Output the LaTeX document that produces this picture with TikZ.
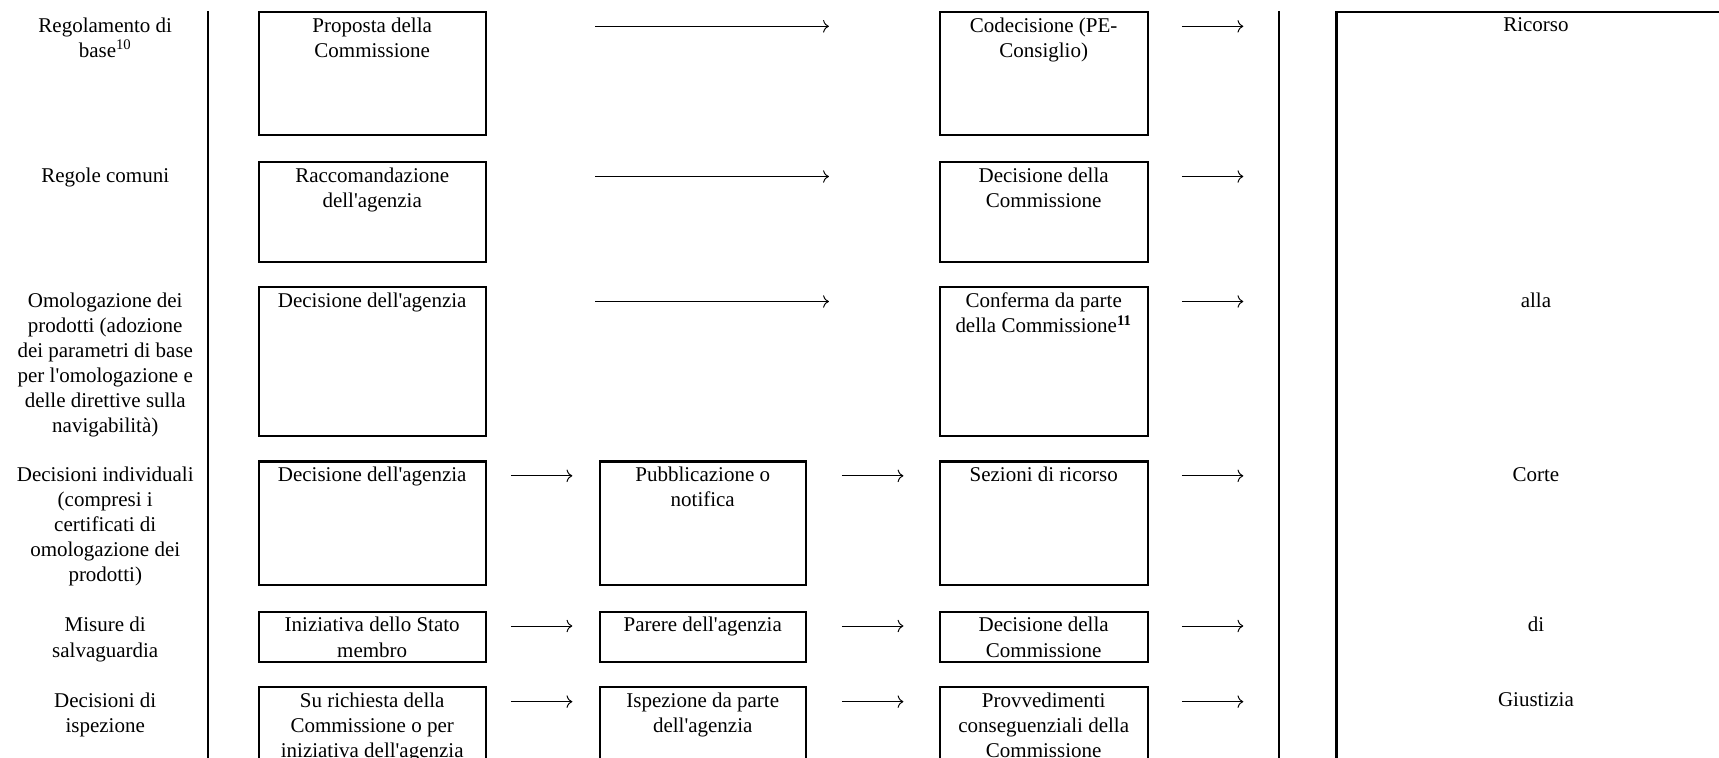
\documentclass[tikz,border=0pt]{standalone}
\usepackage{fontspec}
\setmainfont{Liberation Serif}[Ligatures=TeXOff]
\usetikzlibrary{positioning,arrows.meta}

\begin{document}
\begin{tikzpicture}[x=0.02cm, y=-0.02cm,
  box/.style={draw, line width=1.1pt, anchor=north, inner sep=0pt},
  boxtext/.style={anchor=north, align=center, inner sep=3.3pt, font=\fontsize{10.9}{13}\selectfont},
  rowlabel/.style={boxtext},
  flow/.style={-{To[length=3pt,width=6.5pt]}, line width=0.5pt},
  longflow/.style={flow, shorten <=1.98cm, shorten >=2cm},
  flowa/.style={flow, shorten <=0.44cm, shorten >=0.48cm},
  flowb/.style={flow, shorten <=0.64cm, shorten >=0.64cm},
  flowc/.style={flow, shorten <=0.6cm, shorten >=1.68cm}
  ]
  \useasboundingbox (0,0) rectangle (1568,691);
  \clip (0,0) rectangle (1568,691);

  % table rules
  \draw[line width=1.1pt] (190,10) -- (190,700);
  \draw[line width=1.1pt] (1167,10) -- (1167,700);
  \node[box, minimum width=7.28cm, minimum height=15cm] (court) at (1401,10) {};

  % row labels
  \node[rowlabel] (l1) at (96,10) {Regolamento di\\base\textsuperscript{10}};
  \node[rowlabel] (l2) at (96,147) {Regole comuni};
  \node[rowlabel] (l3) at (96,261) {Omologazione dei\\prodotti (adozione\\dei parametri di base\\per l'omologazione e\\delle direttive sulla\\navigabilità)};
  \node[rowlabel] (l4) at (96,420) {Decisioni individuali\\(compresi i\\certificati di\\omologazione dei\\prodotti)};
  \node[rowlabel] (l5) at (96,557) {Misure di\\salvaguardia};
  \node[rowlabel] (l6) at (96,626) {Decisioni di\\ispezione};

  % row 1
  \node[box, minimum width=4.14cm, minimum height=2.24cm] (b11) at (339.5,10) {};
  \node[boxtext] (t11) at (b11.north) {Proposta della\\Commissione};
  \node[box, minimum width=3.8cm, minimum height=2.24cm] (b13) at (952,10) {};
  \node[boxtext] (t13) at (b13.north) {Codecisione (PE-\\Consiglio)};

  % row 2
  \node[box, minimum width=4.14cm, minimum height=1.82cm] (b21) at (339.5,147) {};
  \node[boxtext] (t21) at (b21.north) {Raccomandazione\\dell'agenzia};
  \node[box, minimum width=3.8cm, minimum height=1.82cm] (b23) at (952,147) {};
  \node[boxtext] (t23) at (b23.north) {Decisione della\\Commissione};

  % row 3
  \node[box, minimum width=4.14cm, minimum height=2.72cm] (b31) at (339.5,261) {};
  \node[boxtext] (t31) at (b31.north) {Decisione dell'agenzia};
  \node[box, minimum width=3.8cm, minimum height=2.72cm] (b33) at (952,261) {};
  \node[boxtext] (t33) at (b33.north) {Conferma da parte\\della Commissione\textsuperscript{\textbf{11}}};

  % row 4
  \node[box, minimum width=4.14cm, minimum height=2.26cm] (b41) at (339.5,420) {};
  \node[boxtext] (t41) at (b41.north) {Decisione dell'agenzia};
  \node[box, minimum width=3.76cm, minimum height=2.26cm] (b42) at (641,420) {};
  \node[boxtext] (t42) at (b42.north) {Pubblicazione o\\notifica};
  \node[box, minimum width=3.8cm, minimum height=2.26cm] (b43) at (952,420) {};
  \node[boxtext] (t43) at (b43.north) {Sezioni di ricorso};

  % row 5
  \node[box, minimum width=4.14cm, minimum height=0.92cm] (b51) at (339.5,557) {};
  \node[boxtext] (t51) at (b51.north) {Iniziativa dello Stato\\membro};
  \node[box, minimum width=3.76cm, minimum height=0.92cm] (b52) at (641,557) {};
  \node[boxtext] (t52) at (b52.north) {Parere dell'agenzia};
  \node[box, minimum width=3.8cm, minimum height=0.92cm] (b53) at (952,557) {};
  \node[boxtext] (t53) at (b53.north) {Decisione della\\Commissione};

  % row 6
  \node[box, minimum width=4.14cm, minimum height=1.6cm] (b61) at (339.5,626) {};
  \node[boxtext] (t61) at (b61.north) {Su richiesta della\\Commissione o per\\iniziativa dell'agenzia};
  \node[box, minimum width=3.76cm, minimum height=1.6cm] (b62) at (641,626) {};
  \node[boxtext] (t62) at (b62.north) {Ispezione da parte\\dell'agenzia};
  \node[box, minimum width=3.8cm, minimum height=1.6cm] (b63) at (952,626) {};
  \node[boxtext] (t63) at (b63.north) {Provvedimenti\\conseguenziali della\\Commissione};

  % court column
  \node[boxtext] (rc1) at (court.north) {Ricorso};
  \node[boxtext] (rc3) at (1401,261) {alla};
  \node[boxtext] (rc4) at (1401,420) {Corte};
  \node[boxtext] (rc5) at (1401,557) {di};
  \node[boxtext] (rc6) at (1401,626) {Giustizia};

  % arrows
  \draw[longflow] ([yshift=-0.28cm]b11.north east) -- ([yshift=-0.28cm]b13.north west);
  \draw[longflow] ([yshift=-0.28cm]b21.north east) -- ([yshift=-0.28cm]b23.north west);
  \draw[longflow] ([yshift=-0.28cm]b31.north east) -- ([yshift=-0.28cm]b33.north west);
  \draw[flowa] ([yshift=-0.28cm]b41.north east) -- ([yshift=-0.28cm]b42.north west);
  \draw[flowa] ([yshift=-0.28cm]b51.north east) -- ([yshift=-0.28cm]b52.north west);
  \draw[flowa] ([yshift=-0.28cm]b61.north east) -- ([yshift=-0.28cm]b62.north west);
  \draw[flowb] ([yshift=-0.28cm]b42.north east) -- ([yshift=-0.28cm]b43.north west);
  \draw[flowb] ([yshift=-0.28cm]b52.north east) -- ([yshift=-0.28cm]b53.north west);
  \draw[flowb] ([yshift=-0.28cm]b62.north east) -- ([yshift=-0.28cm]b63.north west);
  \draw[flowc] ([yshift=-0.28cm]b13.north east) -- ([yshift=-0.28cm]b13.north east -| court.west);
  \draw[flowc] ([yshift=-0.28cm]b23.north east) -- ([yshift=-0.28cm]b23.north east -| court.west);
  \draw[flowc] ([yshift=-0.28cm]b33.north east) -- ([yshift=-0.28cm]b33.north east -| court.west);
  \draw[flowc] ([yshift=-0.28cm]b43.north east) -- ([yshift=-0.28cm]b43.north east -| court.west);
  \draw[flowc] ([yshift=-0.28cm]b53.north east) -- ([yshift=-0.28cm]b53.north east -| court.west);
  \draw[flowc] ([yshift=-0.28cm]b63.north east) -- ([yshift=-0.28cm]b63.north east -| court.west);
\end{tikzpicture}
\end{document}
